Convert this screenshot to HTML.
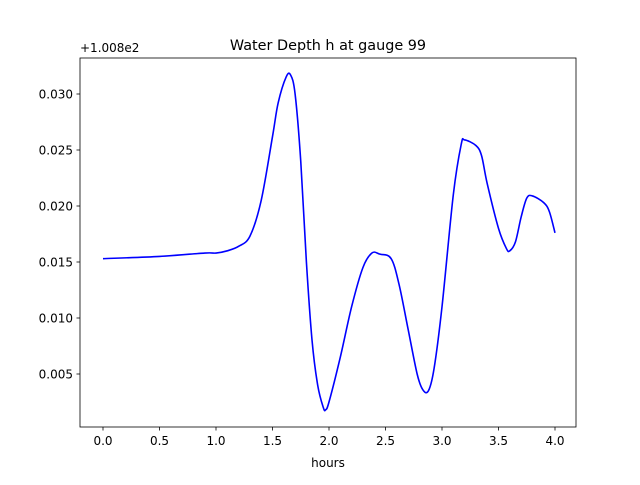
<!DOCTYPE html>
<html><head><meta charset="utf-8"><style>
html,body{margin:0;padding:0;background:#fff;}
svg text{font-family:"DejaVu Sans","Liberation Sans",sans-serif;}
</style></head><body>
<svg id="chart" width="640" height="480" xmlns="http://www.w3.org/2000/svg">
<rect width="640" height="480" fill="#fff"/>
<text x="328" y="50" font-size="14.4" text-anchor="middle">Water Depth h at gauge 99</text>
<text x="80" y="52" font-size="12">+1.008e2</text>
<g id="ticks"></g>
<path id="line" fill="none" stroke="#0000ff" stroke-width="1.6" stroke-linejoin="round"/>
<rect x="80" y="58" width="496" height="369" fill="none" stroke="#000" stroke-width="0.8"/>
<text x="328" y="467" font-size="12" text-anchor="middle">hours</text>
</svg>
<script>
const xs=[0,0.5,0.9,1.0,1.1,1.2,1.3,1.4,1.5,1.55,1.62,1.66,1.7,1.75,1.8,1.85,1.9,1.95,1.97,2.0,2.1,2.2,2.3,2.38,2.45,2.55,2.62,2.7,2.78,2.83,2.88,2.93,3.0,3.1,3.17,3.2,3.3,3.35,3.4,3.5,3.57,3.6,3.65,3.7,3.75,3.8,3.9,3.95,4.0];
const ys=[0.0153,0.0155,0.0158,0.0158,0.0160,0.0164,0.0173,0.0205,0.0262,0.0292,0.0315,0.0317,0.0300,0.0240,0.0150,0.0080,0.0040,0.0020,0.0018,0.0025,0.0065,0.0110,0.0145,0.0158,0.0157,0.0153,0.0130,0.0090,0.0050,0.0036,0.0035,0.0055,0.0110,0.0210,0.0255,0.0259,0.0254,0.0245,0.0220,0.0180,0.0162,0.0160,0.0168,0.0190,0.0207,0.0209,0.0203,0.0195,0.0176];
const xTicks=["0.0","0.5","1.0","1.5","2.0","2.5","3.0","3.5","4.0"];
const yTicks=["0.005","0.010","0.015","0.020","0.025","0.030"];
const X=v=>103+v*113;
const Y=v=>374-(v-0.005)*11200;
const NS="http://www.w3.org/2000/svg";
const g=document.getElementById('ticks');
function mk(t,a){const e=document.createElementNS(NS,t);for(const k in a)e.setAttribute(k,a[k]);g.appendChild(e);return e;}
xTicks.forEach(t=>{const x=X(+t);
 const l=mk('line',{x1:x,x2:x,y1:427,y2:430.5,stroke:'#000','stroke-width':0.8});
 
 
 const s=mk('text',{x:x,y:445,'font-size':12,'text-anchor':'middle'});s.textContent=t;
 
 });
yTicks.forEach(t=>{const y=Y(+t);
 const l=mk('line',{x1:76.5,x2:80,y1:y,y2:y,stroke:'#000','stroke-width':0.8});
 
 
 const s=mk('text',{x:73,y:y+4.3,'font-size':12,'text-anchor':'end'});s.textContent=t;
 
 });
// Catmull-Rom smooth path
const P=xs.map((x,i)=>[X(x),Y(ys[i])]);
let d=`M${P[0][0]},${P[0][1]}`;
for(let i=0;i<P.length-1;i++){const p0=P[Math.max(0,i-1)],p1=P[i],p2=P[i+1],p3=P[Math.min(P.length-1,i+2)];
 const c1=[p1[0]+(p2[0]-p0[0])/6,p1[1]+(p2[1]-p0[1])/6],c2=[p2[0]-(p3[0]-p1[0])/6,p2[1]-(p3[1]-p1[1])/6];
 d+=` C${c1[0]},${c1[1]} ${c2[0]},${c2[1]} ${p2[0]},${p2[1]}`;}
document.getElementById('line').setAttribute('d',d);
</script>
</body></html>
